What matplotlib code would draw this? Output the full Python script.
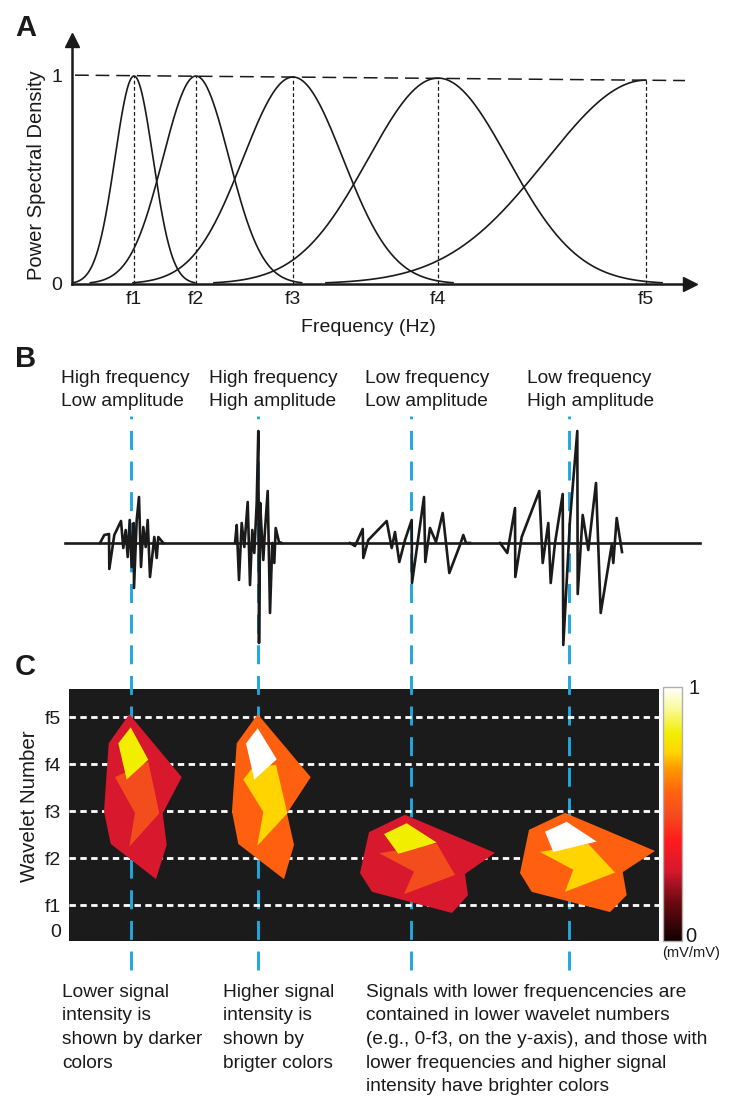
import numpy as np
import matplotlib
matplotlib.use('Agg')
import matplotlib.pyplot as plt
from matplotlib.colors import LinearSegmentedColormap, Normalize
from matplotlib.collections import PolyCollection

plt.rcParams['font.family'] = ['Liberation Sans', 'DejaVu Sans']
TXT = '#1a1a1a'
BLUE = '#1fa8e0'

# ---------------- data ----------------
# panel A: power spectra of the five wavelets
freq_names = ['f1', 'f2', 'f3', 'f4', 'f5']
peak_freq = [6.2, 12.4, 22.1, 36.6, 57.4]
peak_width = [1.9, 3.3, 5.0, 7.0, 10.0]
peak_psd = [1.0, 1.0, 0.995, 0.99, 0.98]
envelope_f = [0.3, 61.3]
envelope_psd = [1.004, 0.978]

# panel B: example signals (time, amplitude)
burst_labels = ['High frequency\nLow amplitude', 'High frequency\nHigh amplitude',
                'Low frequency\nLow amplitude', 'Low frequency\nHigh amplitude']
event_t = [131, 258, 411, 569]
baseline_t = [65, 700]

burst1_t = [100, 104.3, 109, 109.3, 114.3, 121, 123.3, 125.7, 127.7, 129.7, 131.7, 133.7,
            134, 136.7, 139, 141, 143.3, 145.7, 147.7, 150, 154.3, 156.7, 158.3, 163.3]
burst1_v = [0, 0.08, 0.09, -0.26, 0.08, 0.22, -0.05, 0.13, -0.14, 0.23, -0.24, 0.20,
            -0.45, 0.23, 0.46, -0.24, 0.16, -0.04, 0.23, -0.34, 0.06, -0.15, 0.06, 0]
burst2_t = [235, 236.7, 239, 241.7, 244.3, 247.7, 250, 252.3, 254.3, 256.7, 258.3, 259,
            260.3, 261, 263.3, 265, 267.7, 270, 272.3, 274.3, 275.7, 279, 281.7]
burst2_v = [0, 0.18, -0.37, 0.20, -0.04, 0.41, -0.42, 0.13, -0.10, 0.40, 1.12, -1.00,
            0.40, 0.23, -0.17, 0.13, 0.52, -0.70, 0.00, -0.20, 0.15, 0.01, 0]
burst3_t = [350, 355, 362.7, 363.3, 368.3, 386.7, 391.7, 395, 399.3, 405, 411.7, 412,
            424, 425.3, 430, 436, 442.7, 449.3, 460, 463.3, 466, 470]
burst3_v = [0, -0.03, 0.14, -0.15, 0.03, 0.22, -0.05, 0.11, -0.19, 0.03, 0.23, -0.40,
            0.46, -0.19, 0.15, 0.01, 0.30, -0.30, -0.02, 0.08, 0, 0]
burst4_t = [500, 507.3, 515, 515.3, 521.7, 539.3, 542.7, 548.3, 550.7, 555, 562.7, 563.3,
            570, 577.3, 577.7, 582.7, 588.3, 596, 600.7, 611.7, 613.3, 616.7, 622]
burst4_v = [0, -0.10, 0.35, -0.34, 0.06, 0.52, -0.20, 0.20, -0.40, 0.00, 0.49, -1.02,
            0.23, 1.12, -0.51, 0.28, -0.07, 0.60, -0.70, -0.02, -0.20, 0.25, -0.09]

# panel C: wavelet maps (time, wavelet number, intensity)
wavelet_levels = [1, 2, 3, 4, 5]
blob_t = [
    [129.3, 181.7, 162.7, 166.7, 156, 110.7, 104, 108.7],
    [115, 148.3, 159.3, 129.3, 135],
    [130.7, 148.3, 126.7, 118.3],
    [257.7, 310.7, 287, 294, 284, 238.3, 232, 236.7],
    [243.3, 253.3, 276, 287.3, 257.3, 263.3],
    [257.7, 276.7, 254.3, 246],
    [369, 405, 495, 465, 468, 452, 372, 360],
    [379.3, 436.7, 455, 404, 414],
    [384, 406.7, 436.7, 398.3],
    [529, 565, 655, 622.7, 626.7, 610, 531.7, 520],
    [540, 588.3, 615, 565, 573.3],
    [545, 566.7, 596.7, 553.3],
]
blob_w = [
    [5.06, 3.72, 2.95, 2.28, 1.55, 2.30, 2.99, 4.44],
    [3.72, 4.05, 2.95, 2.24, 2.96],
    [4.78, 4.09, 3.67, 4.44],
    [5.06, 3.72, 2.95, 2.28, 1.55, 2.30, 2.99, 4.44],
    [3.67, 3.94, 3.98, 2.95, 2.26, 2.98],
    [4.76, 4.10, 3.67, 4.44],
    [2.55, 2.92, 2.11, 1.66, 1.21, 0.83, 1.28, 1.68],
    [2.10, 2.31, 1.64, 1.23, 1.71],
    [2.51, 2.74, 2.33, 2.09],
    [2.60, 2.96, 2.15, 1.70, 1.21, 0.85, 1.28, 1.68],
    [2.13, 2.30, 1.69, 1.28, 1.75],
    [2.56, 2.77, 2.35, 2.13],
]
blob_val = [0.28, 0.5, 0.82, 0.58, 0.74, 1.0, 0.28, 0.5, 0.82, 0.58, 0.74, 1.0]

bottom_notes = ['Lower signal\nintensity is\nshown by darker\ncolors',
                'Higher signal\nintensity is\nshown by\nbrigter colors',
                'Signals with lower frequencencies are\ncontained in lower wavelet numbers\n'
                '(e.g., 0-f3, on the y-axis), and those with\nlower frequencies and higher signal\n'
                'intensity have brighter colors']

cmap = LinearSegmentedColormap.from_list('sig', [
    (0.0, '#120000'), (0.15, '#6b0a10'), (0.28, '#d8182d'), (0.40, '#ff1c1c'),
    (0.50, '#f44d1d'), (0.58, '#ff6010'), (0.68, '#ff9a00'), (0.74, '#ffd400'),
    (0.82, '#f2ee00'), (0.92, '#fafaa0'), (1.0, '#ffffff')])

# ---------------- layout helpers (pixels) ----------------
W, H = 730, 1102
def rect(x0, y0, x1, y1):
    return [x0 / W, 1 - y1 / H, (x1 - x0) / W, (y1 - y0) / H]
def xy(x, y):
    return (x / W, 1 - y / H)

fig = plt.figure(figsize=(W / 100, H / 100), dpi=100)

# ---------------- panel A ----------------
ax_a = fig.add_axes(rect(72, 40, 690, 284))
ax_a.set_xlim(0, 61.8)
ax_a.set_ylim(0, 1.173)
for i, (f, w, a) in enumerate(zip(peak_freq, peak_width, peak_psd)):
    hi = f if i == len(peak_freq) - 1 else f + 3.2 * w
    x = np.linspace(f - 3.2 * w, hi, 300)
    ax_a.plot(x, a * np.exp(-(x - f) ** 2 / (2 * w ** 2)), color=TXT, lw=1.2)
    ax_a.plot([f, f], [0, a], color=TXT, lw=0.9, dashes=(3, 2))
ax_a.plot(envelope_f, envelope_psd, color=TXT, lw=1.1, dashes=(9, 4.5), clip_on=False)
for s in ['top', 'right']:
    ax_a.spines[s].set_visible(False)
for s in ['left', 'bottom']:
    ax_a.spines[s].set_linewidth(1.8)
    ax_a.spines[s].set_color(TXT)
ax_a.plot(1, 0, marker='>', ms=10, color=TXT, transform=ax_a.get_yaxis_transform(), clip_on=False)
ax_a.plot(0, 1, marker='^', ms=10, color=TXT, transform=ax_a.get_xaxis_transform(), clip_on=False)
ax_a.set_yticks([0, 1], ['0', '1'])
ax_a.set_xticks(peak_freq, freq_names)
ax_a.tick_params(length=0, labelsize=14, colors=TXT)
ax_a.tick_params(axis='y', pad=7)
ax_a.tick_params(axis='x', pad=5)
fig.text(*xy(37, 175), 'Power Spectral Density', rotation=90, fontsize=14.5,
         ha='center', va='center', color=TXT)
fig.text(*xy(368, 328), 'Frequency (Hz)', fontsize=14, ha='center', va='center', color=TXT)

# ---------------- panel C (drawn below B so traces stay on top) ----------------
ax_c = fig.add_axes(rect(69, 689, 659, 941), zorder=1)
ax_c.set_facecolor('#1c1b1b')
ax_c.set_xlim(69, 659)
ax_c.set_ylim(0.234, 5.596)
for t in event_t:
    ax_c.axvline(t, ymin=-0.115, ymax=2.083, color=BLUE, lw=2.1, dashes=(6.5, 4),
                 clip_on=False, zorder=1)
for lvl in wavelet_levels:
    ax_c.axhline(lvl, color='white', lw=2, dashes=(2.3, 1.6), zorder=2)
verts = [np.column_stack([t, w]) for t, w in zip(blob_t, blob_w)]
pc = PolyCollection(verts, array=np.array(blob_val), cmap=cmap, norm=Normalize(0, 1),
                    edgecolors='none', zorder=3)
ax_c.add_collection(pc)
ax_c.set_xticks([])
ax_c.set_yticks([0.234] + wavelet_levels, ['0'] + freq_names)
ax_c.get_yticklabels()[0].set_va('bottom')
ax_c.tick_params(length=0, labelsize=14, colors=TXT, pad=6)
for s in ax_c.spines.values():
    s.set_visible(False)
fig.text(*xy(30, 806), 'Wavelet Number', rotation=90, fontsize=14.8,
         ha='center', va='center', color=TXT)

cax = fig.add_axes(rect(663, 687, 682, 941))
cb = fig.colorbar(pc, cax=cax)
cb.set_ticks([])
cb.outline.set_edgecolor('#b0b0b0')
cb.outline.set_linewidth(1)
fig.text(*xy(688, 688), '1', fontsize=14.5, ha='left', va='center', color=TXT)
fig.text(*xy(685, 936), '0', fontsize=14.5, ha='left', va='center', color=TXT)
fig.text(*xy(691, 953), '(mV/mV)', fontsize=10.5, ha='center', va='center', color=TXT)

for x0, note in zip([62, 223, 366], bottom_notes):
    fig.text(*xy(x0, 984), note, fontsize=13.8, ha='left', va='top', linespacing=1.5, color=TXT)

# ---------------- panel B ----------------
ax_b = fig.add_axes(rect(0, 416, 730, 650), zorder=2)
ax_b.patch.set_alpha(0)
ax_b.set_xlim(0, 730)
ax_b.set_ylim(-1.07, 1.27)
ax_b.plot(baseline_t, [0, 0], color=TXT, lw=1.9)
for t, v in [(burst1_t, burst1_v), (burst2_t, burst2_v), (burst3_t, burst3_v), (burst4_t, burst4_v)]:
    ax_b.plot(t, v, color=TXT, lw=1.9)
ax_b.axis('off')
for x0, lab in zip([61, 209, 365, 527], burst_labels):
    fig.text(*xy(x0, 390), lab, fontsize=13.8, ha='left', va='center', linespacing=1.5, color=TXT)

# panel letters
for letter, y in [('A', 28), ('B', 359), ('C', 667)]:
    fig.text(*xy(15, y), letter, fontsize=21, fontweight='bold', ha='left', va='center', color=TXT)

fig.savefig('out.png', dpi=100)
